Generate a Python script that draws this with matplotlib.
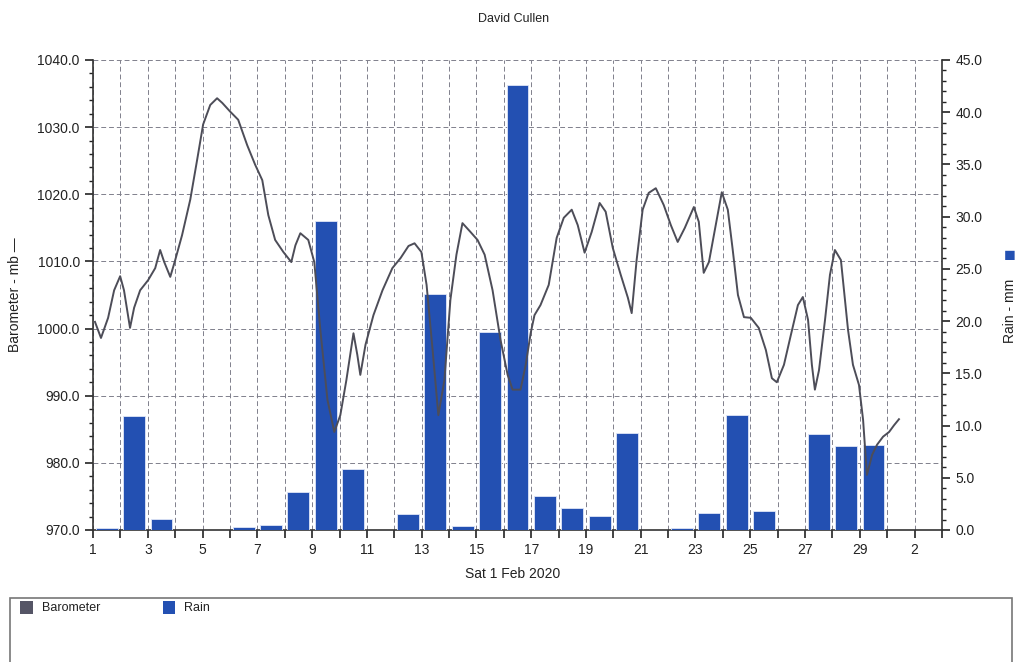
import matplotlib
matplotlib.use("Agg")
import matplotlib.pyplot as plt
from matplotlib.patches import Rectangle
from matplotlib.ticker import MultipleLocator, FixedLocator

plt.rcParams['font.family'] = ['Liberation Sans', 'DejaVu Sans']

# daily rain (mm), one bar per day, Feb 1..29
rain_days = list(range(1, 30))
rain_mm = [0.2, 10.9, 1.1, 0.0, 0.0, 0.3, 0.5, 3.6, 29.6, 5.8,
           0.0, 1.5, 22.6, 0.4, 19.0, 42.6, 3.3, 2.1, 1.3, 9.3,
           0.0, 0.2, 1.6, 11.0, 1.8, 0.0, 9.2, 8.0, 8.1]

# barometer trace (day of Feb as float, mb)
baro_t = [1.07, 1.29, 1.55, 1.77, 1.99, 2.13, 2.35, 2.50, 2.72, 3.01,
          3.27, 3.45, 3.60, 3.82, 4.00, 4.25, 4.55, 4.80, 5.02, 5.28,
          5.53, 5.72, 6.01, 6.30, 6.63, 6.92, 7.18, 7.40, 7.65, 7.95,
          8.24, 8.39, 8.57, 8.86, 9.08, 9.30, 9.56, 9.81, 10.03, 10.25,
          10.51, 10.65, 10.76, 10.95, 11.24, 11.57, 11.93, 12.23, 12.52, 12.74,
          12.99, 13.18, 13.40, 13.61, 13.83, 14.05, 14.27, 14.49, 14.78, 15.04,
          15.30, 15.59, 15.88, 16.14, 16.32, 16.61, 16.80, 16.98, 17.12, 17.34,
          17.64, 17.93, 18.19, 18.48, 18.70, 18.95, 19.21, 19.50, 19.72, 19.98,
          20.27, 20.53, 20.67, 20.85, 21.07, 21.29, 21.55, 21.84, 22.10, 22.35,
          22.61, 22.94, 23.12, 23.30, 23.49, 23.67, 23.96, 24.18, 24.36, 24.55,
          24.77, 25.02, 25.31, 25.57, 25.79, 25.97, 26.23, 26.48, 26.74, 26.92,
          27.11, 27.25, 27.36, 27.51, 27.73, 27.91, 28.09, 28.31, 28.57, 28.75,
          28.97, 29.12, 29.26, 29.45, 29.63, 29.85, 30.07, 30.25, 30.43]
baro_mb = [1001.0, 998.6, 1001.6, 1005.7, 1007.8, 1005.7, 1000.1, 1003.1, 1005.7, 1007.2,
           1009.0, 1011.7, 1009.9, 1007.7, 1010.2, 1013.9, 1019.2, 1025.1, 1030.4, 1033.3,
           1034.3, 1033.6, 1032.3, 1031.1, 1027.3, 1024.4, 1022.1, 1016.9, 1013.2, 1011.4,
           1009.9, 1012.4, 1014.2, 1013.2, 1009.9, 999.8, 989.4, 984.6, 987.1, 992.3,
           999.3, 996.1, 993.1, 997.6, 1002.0, 1005.7, 1009.0, 1010.5, 1012.3, 1012.7,
           1011.4, 1006.5, 996.8, 987.1, 992.3, 1004.3, 1011.0, 1015.7, 1014.4, 1013.2,
           1011.0, 1005.7, 998.3, 993.1, 990.9, 990.9, 994.6, 999.3, 1002.0, 1003.5,
           1006.5, 1013.5, 1016.5, 1017.7, 1015.4, 1011.3, 1014.4, 1018.7, 1017.4, 1012.0,
           1008.0, 1004.6, 1002.3, 1010.2, 1017.7, 1020.2, 1020.9, 1018.4, 1015.4, 1012.9,
           1015.0, 1018.1, 1015.9, 1008.3, 1009.9, 1013.9, 1020.3, 1017.7, 1011.7, 1005.0,
           1001.7, 1001.6, 1000.1, 996.8, 992.6, 992.0, 994.6, 999.0, 1003.5, 1004.7,
           1001.3, 994.6, 990.9, 993.8, 1001.3, 1008.0, 1011.7, 1010.2, 999.8, 994.6,
           991.6, 986.4, 978.2, 981.2, 982.7, 983.9, 984.6, 985.6, 986.5]

x_ticks = list(range(1, 33))
x_labels = ['1', '', '3', '', '5', '', '7', '', '9', '', '11', '', '13', '', '15', '',
            '17', '', '19', '', '21', '', '23', '', '25', '', '27', '', '29', '', '2', '']

BLUE = '#2350b2'
GREY = '#4d4d58'
TXT = '#222222'

fig = plt.figure(figsize=(10.18, 6.62), dpi=100)
ax1 = fig.add_axes([0.0914, 0.1994, 0.8339, 0.71])
ax2 = ax1.twinx()
ax3 = ax1.twinx()

ax1.set_xlim(1, 32)
ax1.set_ylim(970, 1040)
ax1.yaxis.set_major_locator(MultipleLocator(10))
ax1.yaxis.set_minor_locator(MultipleLocator(2))
ax1.yaxis.set_major_formatter(lambda v, p: f'{v:.1f}')
ax1.xaxis.set_major_locator(FixedLocator(x_ticks))
ax1.set_xticklabels(x_labels)
ax1.grid(True, which='major', linestyle=(0, (5, 3)), color='#80808c', linewidth=0.7)
ax1.tick_params(axis='both', which='major', direction='out', length=6, width=1.2,
                labelsize=10, colors=TXT)
ax1.tick_params(axis='y', which='minor', direction='out', length=3, width=1, colors=TXT)
for s in ['top', 'right']:
    ax1.spines[s].set_visible(False)
for s in ['left', 'bottom']:
    ax1.spines[s].set_linewidth(1.2)
    ax1.spines[s].set_color('#333')

ax2.bar([d + 0.5 for d in rain_days], rain_mm, width=0.8, color=BLUE,
        edgecolor='#dfe6f7', linewidth=0.6)
ax2.set_ylim(0, 45)
ax2.yaxis.set_major_locator(MultipleLocator(5))
ax2.yaxis.set_minor_locator(MultipleLocator(1))
ax2.yaxis.set_major_formatter(lambda v, p: f'{v:.1f}')
ax2.tick_params(axis='y', which='major', direction='out', length=6, width=1.2,
                labelsize=10, colors=TXT)
ax2.tick_params(axis='y', which='minor', direction='out', length=3, width=1, colors=TXT)
for s in ['top', 'left', 'bottom']:
    ax2.spines[s].set_visible(False)
ax2.spines['right'].set_linewidth(1.2)
ax2.spines['right'].set_color('#333')

ax3.plot(baro_t, baro_mb, color=GREY, linewidth=1.4)
ax3.set_ylim(970, 1040)
ax3.axis('off')

fig.text(0.504, 0.972, 'David Cullen', ha='center', va='center', fontsize=9, color=TXT)
fig.text(0.504, 0.133, 'Sat 1 Feb 2020', ha='center', va='center', fontsize=10, color=TXT)
fig.text(0.015, 0.555, 'Barometer - mb \u2014', rotation=90, ha='center', va='center',
         fontsize=10, color=TXT)
fig.text(0.992, 0.53, 'Rain - mm', rotation=90, ha='center', va='center',
         fontsize=10, color=TXT)
fig.text(0.992, 0.612, '\u25a0', ha='center', va='center', fontsize=14, color=BLUE)

# legend panel
fig.patches.append(Rectangle((0.01, -0.01), 0.984, 0.107, transform=fig.transFigure,
                             facecolor='white', edgecolor='#777', linewidth=1.2))
fig.patches.append(Rectangle((0.020, 0.073), 0.012, 0.019, transform=fig.transFigure,
                             facecolor='#555566', edgecolor='none'))
fig.text(0.041, 0.082, 'Barometer', ha='left', va='center', fontsize=9, color=TXT)
fig.patches.append(Rectangle((0.160, 0.073), 0.012, 0.019, transform=fig.transFigure,
                             facecolor=BLUE, edgecolor='none'))
fig.text(0.181, 0.082, 'Rain', ha='left', va='center', fontsize=9, color=TXT)

fig.savefig('out.png', dpi=100)
